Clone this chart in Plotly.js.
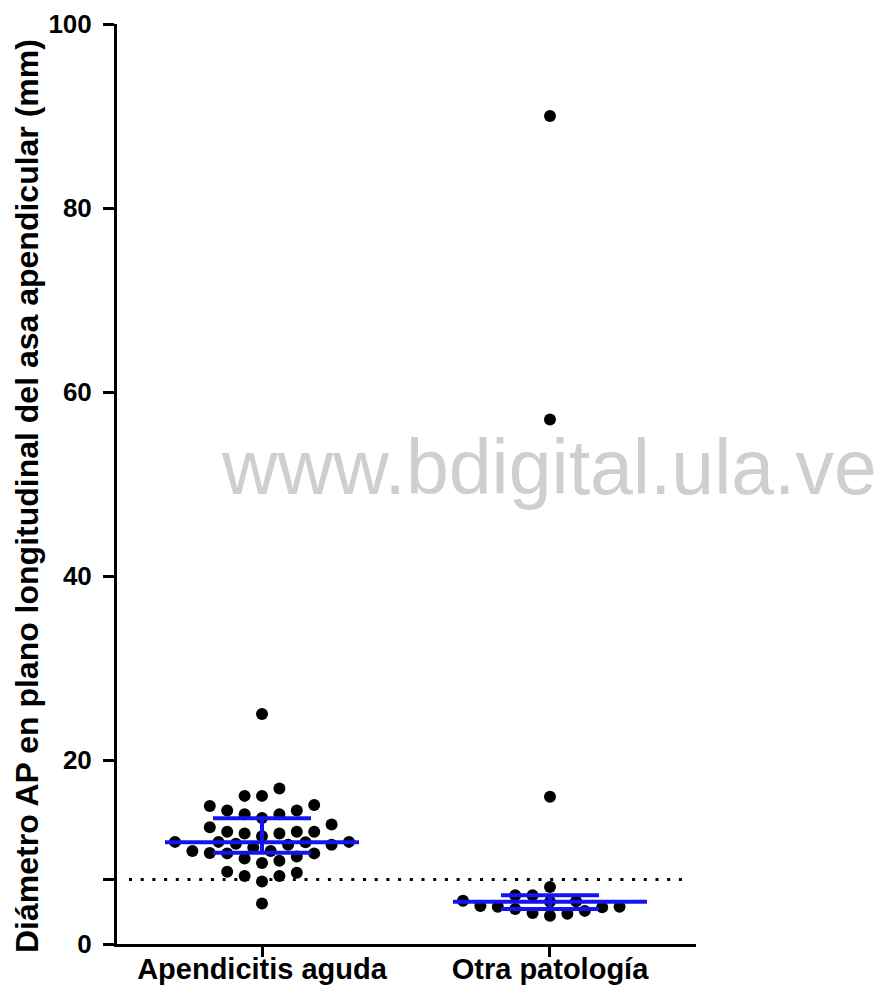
<!DOCTYPE html>
<html>
<head>
<meta charset="utf-8">
<script src="https://cdn.plot.ly/plotly-3.0.1.min.js"></script>
<style>
  html, body { margin: 0; padding: 0; background: #fff; }
  #chart { width: 880px; height: 987px; }
</style>
</head>
<body>
<div id="chart"></div>
<script>
// ---------------- data ----------------
const CATEGORIES = ['Apendicitis aguda', 'Otra patología'];
const APENDICITIS = [25.0, 16.9, 16.1, 16.1, 15.1, 15.0, 14.5, 14.1, 13.7, 14.1, 14.5, 13.0, 12.7,
  12.2, 12.2, 12.2, 12.0, 11.7, 12.0, 11.1, 11.05, 10.8, 10.8, 10.9, 11.1, 11.1, 10.1, 9.9,
  9.85, 9.85, 10.1, 10.5, 9.3, 8.8, 9.05, 9.5, 7.75, 7.4, 6.8, 7.4, 7.86, 4.4];
const OTRA = [90, 57, 16, 6.2, 5.3, 5.3, 4.7, 4.65, 4.6, 4.13, 4.06, 4.06, 4.0, 3.8, 3.6, 3.37, 3.3, 3.08];
const MEDIANS = [11.05, 4.6];
const Q1 = [9.93, 3.8];
const Q3 = [13.66, 5.3];
const CUTOFF = 7;
const Y_TICKS = [0, 20, 40, 60, 80, 100];
const Y_TITLE = 'Diámetro AP en plano longitudinal del asa apendicular (mm)';
const WATERMARK = 'www.bdigital.ula.ve';

// ---------------- layout constants ----------------
const W = 880, H = 987;
const M = { l: 117, r: 184, t: 24, b: 43 };
const XRANGE = [-0.5035, 1.507];
const YRANGE = [0, 100];
const DOT = 12;          // marker diameter px
const STEP = 8.7;        // horizontal slot step px
const MINDIST = 13;      // min centre distance px
const BLUE = '#1414f0';

const plotW = W - M.l - M.r, plotH = H - M.t - M.b;
const pxPerX = plotW / (XRANGE[1] - XRANGE[0]);
const pxPerY = plotH / (YRANGE[1] - YRANGE[0]);

// simple beeswarm: place points in ascending order at nearest free slot
function swarm(values) {
  const order = values.map((v, i) => i).sort((a, b) => values[a] - values[b]);
  const placed = [];
  const offs = new Array(values.length).fill(0);
  let balance = 0;
  for (const i of order) {
    const y = values[i] * pxPerY;
    let chosen = null;
    for (let k = 0; k < 60 && chosen === null; k++) {
      const cands = k === 0 ? [0] : (balance <= 0 ? [k * STEP, -k * STEP] : [-k * STEP, k * STEP]);
      for (const dx of cands) {
        const ok = placed.every(p => Math.hypot(p.x - dx, p.y - y) >= MINDIST);
        if (ok) { chosen = dx; break; }
      }
    }
    if (chosen > 0) balance++; else if (chosen < 0) balance--;
    placed.push({ x: chosen, y: y });
    offs[i] = chosen / pxPerX;
  }
  return offs;
}

const groups = [APENDICITIS, OTRA];
const traces = [];
groups.forEach((vals, gi) => {
  const offs = swarm(vals);
  traces.push({
    type: 'scatter', mode: 'markers',
    x: vals.map((v, i) => gi + offs[i]),
    y: vals,
    marker: { size: DOT, color: '#000' },
    hoverinfo: 'y', showlegend: false, cliponaxis: false
  });
});

// median + interquartile bars
const MED_HALF = 97 / pxPerX, CAP_HALF = 49 / pxPerX;
const lx = [], ly = [];
CATEGORIES.forEach((c, gi) => {
  lx.push(gi - MED_HALF, gi + MED_HALF, null); ly.push(MEDIANS[gi], MEDIANS[gi], null);
  lx.push(gi - CAP_HALF, gi + CAP_HALF, null); ly.push(Q3[gi], Q3[gi], null);
  lx.push(gi - CAP_HALF, gi + CAP_HALF, null); ly.push(Q1[gi], Q1[gi], null);
  lx.push(gi, gi, null); ly.push(Q1[gi], Q3[gi], null);
});
traces.push({
  type: 'scatter', mode: 'lines', x: lx, y: ly,
  line: { color: BLUE, width: 4 }, hoverinfo: 'skip', showlegend: false
});

const yTickVals = [Y_TICKS[0], CUTOFF].concat(Y_TICKS.slice(1));
const yTickText = yTickVals.map(v => v === CUTOFF ? '' : String(v));

const FONT = 'Liberation Sans, Arial, Helvetica, sans-serif';

const layout = {
  width: W, height: H,
  margin: M,
  paper_bgcolor: '#fff', plot_bgcolor: '#fff',
  showlegend: false,
  font: { family: FONT, color: '#000' },
  xaxis: {
    range: XRANGE, showgrid: false, zeroline: false,
    showline: true, linecolor: '#000', linewidth: 3,
    tickmode: 'array', tickvals: CATEGORIES.map((c, i) => i), ticktext: CATEGORIES,
    ticks: 'outside', ticklen: 10, tickwidth: 3, tickcolor: '#000',
    ticklabelstandoff: -13,
    tickfont: { family: FONT, size: 29, weight: 'bold', color: '#000' },
    fixedrange: true
  },
  yaxis: {
    range: YRANGE, showgrid: false, zeroline: false,
    showline: true, linecolor: '#000', linewidth: 3,
    tickmode: 'array', tickvals: yTickVals, ticktext: yTickText,
    ticks: 'outside', ticklen: 11, tickwidth: 3, tickcolor: '#000',
    ticklabelstandoff: 6,
    tickfont: { family: FONT, size: 26, weight: 'bold', color: '#000' },
    fixedrange: true
  },
  shapes: [{
    type: 'line', xref: 'paper', yref: 'y',
    x0: 12 / plotW, x1: 566 / plotW, y0: CUTOFF, y1: CUTOFF,
    line: { color: '#000', width: 3, dash: '3px,8.7px' }
  }],
  annotations: [{
    text: WATERMARK, xref: 'paper', yref: 'paper',
    x: (549 - M.l) / plotW, y: (H - M.b - 467) / plotH,
    xanchor: 'center', yanchor: 'middle', showarrow: false,
    font: { family: FONT, size: 77, color: '#cfcfcf' }
  }, {
    text: Y_TITLE, xref: 'paper', yref: 'paper', textangle: -90,
    x: (27 - M.l) / plotW, y: (H - M.b - 496) / plotH,
    xanchor: 'center', yanchor: 'middle', showarrow: false,
    font: { family: FONT, size: 32, weight: 'bold', color: '#000' }
  }]
};

Plotly.newPlot('chart', traces, layout, { displayModeBar: false, staticPlot: true });
</script>
</body>
</html>
